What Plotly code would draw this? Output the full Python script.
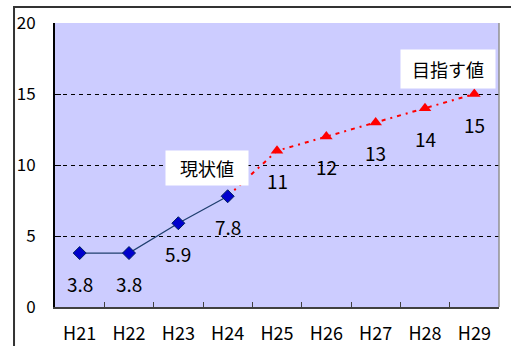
import plotly.graph_objects as go

categories = ["H21", "H22", "H23", "H24", "H25", "H26", "H27", "H28", "H29"]
current_x = ["H21", "H22", "H23", "H24"]
current_vals = [3.8, 3.8, 5.9, 7.8]
target_x = ["H24", "H25", "H26", "H27", "H28", "H29"]
target_vals = [7.8, 11, 12, 13, 14, 15]
y_ticks = [0, 5, 10, 15, 20]

FONT = "Noto Sans CJK JP"

fig = go.Figure()

# target (red dash-dot) line; marker hidden at H24 point
fig.add_trace(go.Scatter(
    x=target_x, y=target_vals, mode="lines+markers",
    line=dict(color="#FF0000", width=2, dash="4px,5px,2px,5px"),
    marker=dict(symbol="triangle-up", size=11, color="#FF0000",
                opacity=[0] + [1] * (len(target_vals) - 1)),
    showlegend=False, hoverinfo="skip",
))

fig.add_trace(go.Scatter(
    x=current_x, y=current_vals, mode="lines+markers",
    line=dict(color="#1F3F6F", width=1.3),
    marker=dict(symbol="diamond", size=10, color="#0000CC",
                line=dict(color="#00205F", width=1)),
    showlegend=False, hoverinfo="skip",
))

annotations = []
for xs, vs in ((current_x, current_vals), (target_x[1:], target_vals[1:])):
    for c, v in zip(xs, vs):
        annotations.append(dict(
            x=c, y=v, xref="x", yref="y", text=f"{v:g}", showarrow=False,
            xanchor="center", yanchor="middle", yshift=-30,
            font=dict(family=FONT, size=19, color="#000000"),
        ))

annotations.append(dict(
    x=0.342, y=9.79, xref="paper", yref="y", text="現状値", showarrow=False,
    xanchor="center", yanchor="middle", bgcolor="#FFFFFF", width=80, height=32,
    borderpad=1, font=dict(family=FONT, size=18, color="#000000"),
))
annotations.append(dict(
    x=0.885, y=16.76, xref="paper", yref="y", text="目指す値", showarrow=False,
    xanchor="center", yanchor="middle", bgcolor="#FFFFFF", width=92, height=36,
    borderpad=1, font=dict(family=FONT, size=18, color="#000000"),
))

shapes = [
    # outer chart frame (extends beyond the picture on right/bottom)
    dict(type="rect", xref="paper", yref="paper", x0=-0.0923, x1=1.2,
         y0=-0.3, y1=1.0563, line=dict(color="#333333", width=2),
         fillcolor="rgba(0,0,0,0)", layer="above"),
    # right border of plot area
    dict(type="line", xref="paper", yref="paper", x0=1, x1=1, y0=0, y1=1,
         line=dict(color="#909090", width=1.5)),
]

fig.update_layout(
    width=511, height=346,
    margin=dict(l=55, r=12, t=23, b=39),
    paper_bgcolor="#FFFFFF", plot_bgcolor="#CCCCFF",
    font=dict(family=FONT, color="#000000"),
    annotations=annotations, shapes=shapes,
    xaxis=dict(
        type="category", categoryorder="array", categoryarray=categories,
        range=[-0.5, 8.5], showgrid=False, zeroline=False, automargin=False,
        showline=True, linecolor="#404040", linewidth=2,
        ticks="inside", tickson="boundaries", ticklen=5, tickcolor="#404040",
        tickwidth=1.3, tickfont=dict(family=FONT, size=18),
        ticklabelstandoff=9,
    ),
    yaxis=dict(
        range=[0, 20], tickvals=y_ticks, showgrid=True, gridcolor="#000000",
        gridwidth=1, griddash="4px,4px", zeroline=False, automargin=False,
        showline=True, linecolor="#000000", linewidth=2,
        ticks="inside", ticklen=6, tickcolor="#000000",
        tickfont=dict(family=FONT, size=17), ticklabelstandoff=14,
    ),
)

fig.write_html("out.html")
